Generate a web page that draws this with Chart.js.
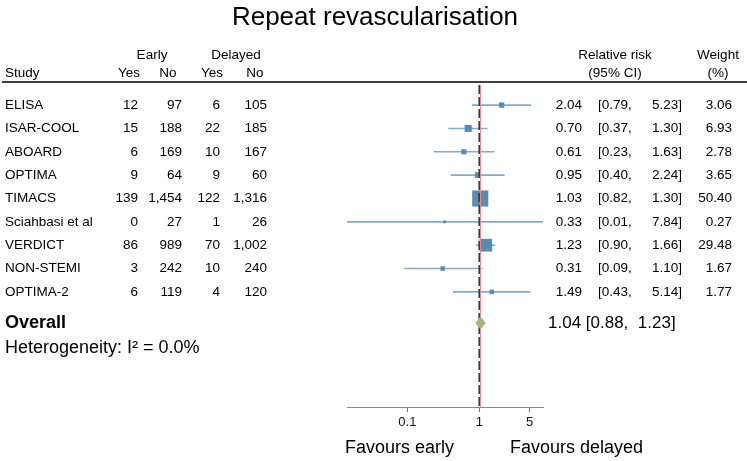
<!DOCTYPE html>
<html>
<head>
<meta charset="utf-8">
<script src="https://cdn.jsdelivr.net/npm/chart.js@4.4.1/dist/chart.umd.min.js"></script>
<style>
  html, body { margin: 0; padding: 0; background: #fff; }
  #wrap { width: 747px; height: 461px; }
</style>
</head>
<body>
<div id="wrap"><canvas id="forest" width="747" height="461"></canvas></div>
<script>
  const studies = ['ELISA', 'ISAR-COOL', 'ABOARD', 'OPTIMA', 'TIMACS', 'Sciahbasi et al', 'VERDICT', 'NON-STEMI', 'OPTIMA-2'];
  const earlyYes = [12, 15, 6, 9, 139, 0, 86, 3, 6];
  const earlyNo = [97, 188, 169, 64, 1454, 27, 989, 242, 119];
  const delayedYes = [6, 22, 10, 9, 122, 1, 70, 10, 4];
  const delayedNo = [105, 185, 167, 60, 1316, 26, 1002, 240, 120];
  const rr = [2.04, 0.70, 0.61, 0.95, 1.03, 0.33, 1.23, 0.31, 1.49];
  const ciLow = [0.79, 0.37, 0.23, 0.40, 0.82, 0.01, 0.90, 0.09, 0.43];
  const ciHigh = [5.23, 1.30, 1.63, 2.24, 1.30, 7.84, 1.66, 1.10, 5.14];
  const weight = [3.06, 6.93, 2.78, 3.65, 50.40, 0.27, 29.48, 1.67, 1.77];
  const overallRR = 1.04;
  const overallLow = 0.88;
  const overallHigh = 1.23;
  const heterogeneity = 'Heterogeneity: I\u00b2 = 0.0%';
  const xTicks = [0.1, 1, 5];

  const FONT = "'Liberation Sans', Helvetica, Arial, sans-serif";
  const MARKER = '#5b8cb0';
  const WHISKER = '#84acca';
  const DIAMOND = '#a5b380';
  const OVERALL_LINE = '#e68a9c';
  const OVERALL_ROW = 9.33;
  const HET_ROW = 10.41;

  const fmt = v => v.toLocaleString('en-US');

  // boîte : côté ~ racine du poids
  const boxRadius = weight.map(w => (1.9 + 2.0 * Math.sqrt(w)) / Math.SQRT2);

  const whiskers = studies.map((s, i) => ({
    label: s,
    data: [{ x: ciLow[i], y: i }, { x: ciHigh[i], y: i }],
    showLine: true,
    borderColor: WHISKER,
    borderWidth: 1.6,
    pointRadius: 0,
    order: 2
  }));

  const tablePlugin = {
    id: 'table',
    afterDatasetsDraw(chart) {
      const { ctx, chartArea, scales: { x, y } } = chart;
      ctx.save();
      // ligne nulle (tirets) et estimation globale
      const x1 = x.getPixelForValue(1);
      ctx.strokeStyle = '#3a3a3a';
      ctx.lineWidth = 1.8;
      ctx.setLineDash([9, 3]);
      ctx.beginPath();
      ctx.moveTo(x1, chartArea.top);
      ctx.lineTo(x1, chartArea.bottom);
      ctx.stroke();
      ctx.setLineDash([]);
      const xo = x.getPixelForValue(overallRR);
      ctx.strokeStyle = OVERALL_LINE;
      ctx.lineWidth = 1;
      ctx.beginPath();
      ctx.moveTo(xo, chartArea.top);
      ctx.lineTo(xo, chartArea.bottom);
      ctx.stroke();
      // losange
      const yo = y.getPixelForValue(OVERALL_ROW);
      ctx.fillStyle = DIAMOND;
      ctx.beginPath();
      ctx.moveTo(x.getPixelForValue(overallLow), yo);
      ctx.lineTo(xo, yo - 6.5);
      ctx.lineTo(x.getPixelForValue(overallHigh), yo);
      ctx.lineTo(xo, yo + 6.5);
      ctx.closePath();
      ctx.fill();
      ctx.restore();
    },
    afterDraw(chart) {
      const { ctx, scales: { y } } = chart;
      ctx.save();
      ctx.fillStyle = '#000';
      ctx.textBaseline = 'middle';

      ctx.font = '26px ' + FONT;
      ctx.textAlign = 'center';
      ctx.fillText('Repeat revascularisation', 375, 18);

      // en-têtes
      ctx.font = '13.5px ' + FONT;
      ctx.fillText('Early', 152, 55);
      ctx.fillText('Delayed', 236, 55);
      ctx.fillText('Yes', 129, 73);
      ctx.fillText('No', 168, 73);
      ctx.fillText('Yes', 212, 73);
      ctx.fillText('No', 255, 73);
      ctx.fillText('Relative risk', 615, 55);
      ctx.fillText('(95% CI)', 615, 73);
      ctx.fillText('Weight', 718, 55);
      ctx.fillText('(%)', 718, 73);
      ctx.textAlign = 'left';
      ctx.fillText('Study', 5, 73);

      ctx.strokeStyle = '#000';
      ctx.lineWidth = 1.3;
      ctx.beginPath();
      ctx.moveTo(2, 82);
      ctx.lineTo(747, 82);
      ctx.stroke();

      studies.forEach((s, i) => {
        const py = y.getPixelForValue(i);
        ctx.textAlign = 'left';
        ctx.fillText(s, 5, py);
        ctx.fillText('[' + ciLow[i].toFixed(2) + ',', 598, py);
        ctx.textAlign = 'right';
        ctx.fillText(fmt(earlyYes[i]), 138, py);
        ctx.fillText(fmt(earlyNo[i]), 182, py);
        ctx.fillText(fmt(delayedYes[i]), 220, py);
        ctx.fillText(fmt(delayedNo[i]), 267, py);
        ctx.fillText(rr[i].toFixed(2), 582, py);
        ctx.fillText(ciHigh[i].toFixed(2) + ']', 682, py);
        ctx.fillText(weight[i].toFixed(2), 732, py);
      });

      const yo = y.getPixelForValue(OVERALL_ROW);
      ctx.textAlign = 'left';
      ctx.font = 'bold 18px ' + FONT;
      ctx.fillText('Overall', 5, yo);
      ctx.font = '17px ' + FONT;
      ctx.fillText(overallRR.toFixed(2) + ' [' + overallLow.toFixed(2) + ',  ' + overallHigh.toFixed(2) + ']', 548, yo);
      ctx.font = '18px ' + FONT;
      ctx.fillText(heterogeneity, 5, y.getPixelForValue(HET_ROW));

      ctx.fillText('Favours early', 345, 448);
      ctx.fillText('Favours delayed', 510, 448);
      ctx.restore();
    }
  };

  new Chart(document.getElementById('forest'), {
    type: 'scatter',
    data: {
      datasets: [
        {
          label: 'RR',
          data: rr.map((v, i) => ({ x: v, y: i })),
          pointStyle: 'rect',
          pointRadius: boxRadius,
          backgroundColor: MARKER,
          borderWidth: 0,
          order: 1
        },
        ...whiskers
      ]
    },
    options: {
      responsive: false,
      animation: false,
      events: [],
      layout: { padding: { left: 347, right: 204, top: 85, bottom: 0 } },
      plugins: {
        legend: { display: false },
        tooltip: { enabled: false }
      },
      scales: {
        x: {
          type: 'logarithmic',
          min: 0.0145,
          max: 7.67,
          afterBuildTicks: scale => { scale.ticks = xTicks.map(v => ({ value: v })); },
          afterFit: scale => { scale.height = 54; },
          grid: { drawOnChartArea: false, tickLength: 5, color: '#777' },
          border: { color: '#888', width: 1 },
          ticks: {
            autoSkip: false,
            maxRotation: 0,
            padding: 3,
            color: '#111',
            font: { family: FONT, size: 13 },
            callback: v => String(v)
          }
        },
        y: {
          display: false,
          reverse: true,
          min: -0.86,
          max: 12.93
        }
      }
    },
    plugins: [tablePlugin]
  });
</script>
</body>
</html>
